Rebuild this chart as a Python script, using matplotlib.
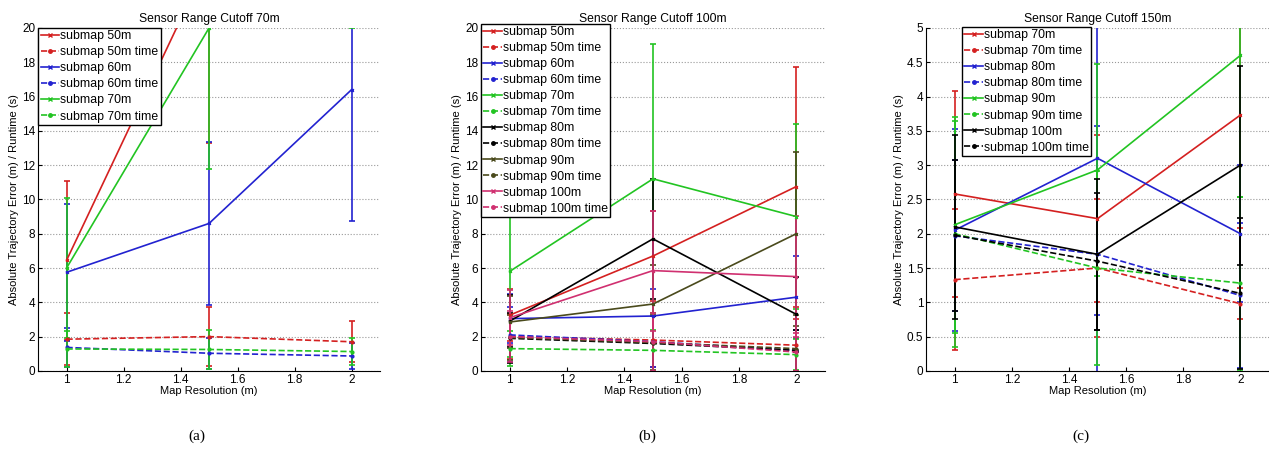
import numpy as np
import matplotlib
matplotlib.use("Agg")
import matplotlib.pyplot as plt
from matplotlib.lines import Line2D

plt.rcParams['font.family'] = ['Liberation Sans', 'DejaVu Sans']

res = [1, 1.5, 2]

# panel (a): cutoff 70m
a_labels = ['submap 50m', 'submap 50m time', 'submap 60m', 'submap 60m time',
            'submap 70m', 'submap 70m time']
a_mean = [[6.45, 24.0, 28.0], [1.85, 2.0, 1.7],
          [5.75, 8.6, 16.4], [1.37, 1.03, 0.87],
          [6.0, 20.0, 26.0], [1.28, 1.25, 1.13]]
a_err = [[4.65, 10.7, 6.0], [1.5, 1.7, 1.2],
         [4.0, 4.75, 7.65], [1.15, 0.9, 0.75],
         [4.1, 8.2, 6.0], [1.05, 1.15, 0.8]]

# panel (b): cutoff 100m
b_labels = ['submap 50m', 'submap 50m time', 'submap 60m', 'submap 60m time',
            'submap 70m', 'submap 70m time', 'submap 80m', 'submap 80m time',
            'submap 90m', 'submap 90m time', 'submap 100m', 'submap 100m time']
b_mean = [[3.25, 6.7, 10.75], [2.0, 1.8, 1.5],
          [3.05, 3.2, 4.3], [2.1, 1.7, 1.2],
          [5.8, 11.2, 9.0], [1.3, 1.2, 0.95],
          [2.9, 7.7, 3.3], [1.9, 1.6, 1.2],
          [2.85, 3.9, 8.0], [1.95, 1.65, 1.3],
          [3.1, 5.85, 5.5], [2.0, 1.7, 1.1]]
b_err = [[1.5, 2.6, 7.0], [1.3, 1.6, 1.5],
         [1.45, 1.55, 2.4], [1.6, 1.5, 1.2],
         [5.0, 7.85, 5.4], [1.0, 1.2, 0.9],
         [1.5, 3.5, 2.2], [1.45, 1.6, 1.2],
         [1.5, 2.3, 4.75], [1.3, 1.6, 1.3],
         [1.6, 3.5, 3.55], [1.5, 1.7, 1.1]]

# panel (c): cutoff 150m
c_labels = ['submap 70m', 'submap 70m time', 'submap 80m', 'submap 80m time',
            'submap 90m', 'submap 90m time', 'submap 100m', 'submap 100m time']
c_mean = [[2.58, 2.22, 3.73], [1.33, 1.5, 0.98],
          [2.05, 3.1, 2.0], [1.97, 1.7, 1.1],
          [2.13, 2.93, 4.6], [2.0, 1.5, 1.28],
          [2.1, 1.7, 3.0], [1.98, 1.6, 1.13]]
c_err = [[1.5, 1.22, 1.64], [1.03, 1.0, 0.23],
         [1.47, 2.28, 1.0], [1.1, 1.87, 1.06],
         [1.57, 1.54, 2.06], [1.65, 1.41, 1.26],
         [1.34, 1.1, 1.45], [1.1, 1.0, 1.1]]

colors = ['#d42020', '#2222d0', '#22c422', '#000000', '#4a4a1c', '#d03070']

fig = plt.figure(figsize=(12.69, 4.54), dpi=100)

panels = [
    ([0.030, 0.183, 0.2695, 0.7555], 'Sensor Range Cutoff 70m', a_labels, a_mean, a_err, 20, 2, (0.0, 1.0)),
    ([0.379, 0.183, 0.2711, 0.7555], 'Sensor Range Cutoff 100m', b_labels, b_mean, b_err, 20, 2, (0.0, 1.012)),
    ([0.7297, 0.183, 0.2703, 0.7555], 'Sensor Range Cutoff 150m', c_labels, c_mean, c_err, 5, 0.5, (0.105, 1.003)),
]
captions = ['(a)', '(b)', '(c)']
caption_x = [197 / 1269, 647 / 1269, 1081 / 1269]

for i, (pos, title, labels, means, errs, ymax, ystep, anchor) in enumerate(panels):
    ax = fig.add_axes(pos)
    handles = []
    for k in range(len(labels)):
        col = colors[k // 2]
        timed = k % 2 == 1
        ls = '--' if timed else '-'
        mk = 'o' if timed else 'x'
        ax.errorbar(res, means[k], yerr=errs[k], color=col, linestyle=ls,
                    marker=mk, markersize=2, linewidth=1.2, elinewidth=1.2,
                    capsize=2.5, capthick=1.2)
        handles.append(Line2D([], [], color=col, linestyle=ls, marker=mk,
                              markersize=2.5, linewidth=1.2, label=labels[k]))
    ax.set_xlim(0.9, 2.1)
    ax.set_ylim(0, ymax)
    ax.set_xticks([1, 1.2, 1.4, 1.6, 1.8, 2])
    ax.set_xticklabels(['1', '1.2', '1.4', '1.6', '1.8', '2'])
    yt = np.arange(0, ymax + ystep / 2, ystep)
    ax.set_yticks(yt)
    ax.set_yticklabels(['%g' % v for v in yt])
    ax.tick_params(direction='in', labelsize=8.5, length=3, pad=2)
    ax.yaxis.grid(True, linestyle=':', color='#999999', linewidth=0.8)
    ax.spines['top'].set_visible(False)
    ax.spines['right'].set_visible(False)
    ax.set_title(title, fontsize=8.7, pad=4)
    ax.set_xlabel('Map Resolution (m)', fontsize=8, labelpad=0)
    ax.set_ylabel('Absolute Trajectory Error (m) / Runtime (s)', fontsize=8, labelpad=2)
    leg = ax.legend(handles=handles, loc='upper left', bbox_to_anchor=anchor,
                    fontsize=8.8, handlelength=1.5, handletextpad=0.1,
                    borderpad=0.2, labelspacing=0.33, borderaxespad=0,
                    fancybox=False, framealpha=1)
    leg.get_frame().set_edgecolor('black')
    leg.get_frame().set_linewidth(1.0)
    fig.text(caption_x[i], 0.04, captions[i], ha='center', va='center',
             fontsize=11, family='Liberation Serif')

fig.savefig('out.png', dpi=100)
